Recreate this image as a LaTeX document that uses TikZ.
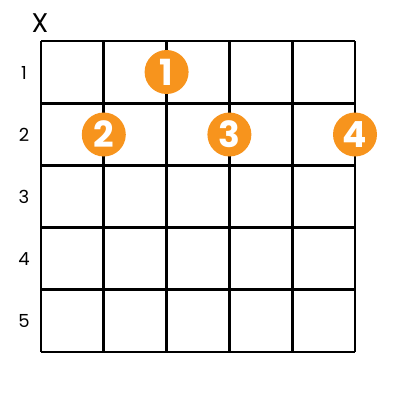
\documentclass[tikz,border=0pt]{standalone}
\usepackage{fontspec}
\setmainfont{Poppins}
\usepackage{tikz}
\usetikzlibrary{positioning}
\definecolor{fingerorange}{HTML}{F7941D}
\tikzset{
  fret/.style={line width=2.8pt, black},
  finger/.style={circle, fill=fingerorange, minimum size=44pt, inner sep=0pt,
    text=white, font=\fontsize{36}{36}\selectfont\bfseries},
  fretnum/.style={font=\fontsize{18}{18}\selectfont},
}
\begin{document}
\begin{tikzpicture}[x=1pt,y=-1pt]
\useasboundingbox (0,0) rectangle (400,400);
%\fill[white] (0,0) rectangle (400,400);
\draw node (mute) at (40,23) {\fontsize{27}{27}\selectfont X};
\node[fretnum] (n1) at (24,73) {1};
\node[fretnum] (n2) at (24,135) {2};
\node[fretnum] (n3) at (24,197) {3};
\node[fretnum] (n4) at (24,259) {4};
\node[fretnum] (n5) at (24,321) {5};
% strings
\draw[fret] (41,41) -- (41,352);
\draw[fret] (103.8,41) -- (103.8,352);
\draw[fret] (166.6,41) -- (166.6,352);
\draw[fret] (229.4,41) -- (229.4,352);
\draw[fret] (292.2,41) -- (292.2,352);
\draw[fret] (355,41) -- (355,352);
% frets
\draw[fret] (41,41) -- (355,41);
\draw[fret] (41,103.2) -- (355,103.2);
\draw[fret] (41,165.4) -- (355,165.4);
\draw[fret] (41,227.6) -- (355,227.6);
\draw[fret] (41,289.8) -- (355,289.8);
\draw[fret] (41,352) -- (355,352);
% fingers
\node[finger] (f1) at (166.6,72) {1};
\node[finger] (f2) at (103.8,134.5) {2};
\node[finger] (f3) at (229.4,134.5) {3};
\node[finger] (f4) at (355,134.5) {4};
\end{tikzpicture}
\end{document}
